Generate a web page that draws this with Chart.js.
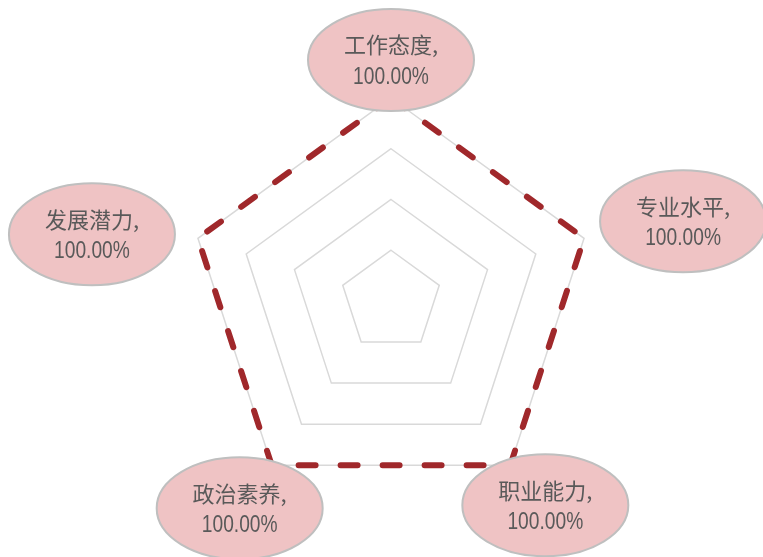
<!DOCTYPE html>
<html>
<head>
<meta charset="utf-8">
<script src="https://cdn.jsdelivr.net/npm/chart.js@4.4.0/dist/chart.umd.min.js"></script>
<style>
  html, body { margin: 0; padding: 0; background: #fff; }
  #wrap { width: 763px; height: 557px; }
</style>
</head>
<body>
<div id="wrap"><canvas id="radar" width="763" height="557"></canvas></div>
<script>
// data
const categories = ['工作态度', '专业水平', '职业能力', '政治素养', '发展潜力'];
const scores = [1, 1, 1, 1, 1];
const tickSteps = [0, 0.25, 0.5, 0.75, 1];

// where each callout bubble sits relative to its vertex (px)
const calloutShift = [[0, -38], [99, -17], [35, 40], [-32, 43], [-106, -4]];

const calloutPlugin = {
    id: 'callouts',
    afterDatasetsDraw(chart) {
        const ctx = chart.ctx;
        const meta = chart.getDatasetMeta(0);
        ctx.save();
        meta.data.forEach(function (pt, i) {
            const x = pt.x + calloutShift[i][0];
            const y = pt.y + calloutShift[i][1];
            ctx.beginPath();
            ctx.ellipse(x, y, 83, 51, 0, 0, Math.PI * 2);
            ctx.fillStyle = '#EFC3C4';
            ctx.fill();
            ctx.lineWidth = 2;
            ctx.strokeStyle = '#BFBFBF';
            ctx.stroke();

            ctx.fillStyle = '#595959';
            ctx.textAlign = 'center';
            ctx.textBaseline = 'middle';
            ctx.font = "22px 'Noto Sans CJK SC'";
            ctx.fillText(categories[i] + ',', x, y - 15);
            // narrow look for the percentage
            ctx.save();
            ctx.translate(x, y + 17);
            ctx.scale(0.8, 1);
            ctx.font = "24px 'Liberation Sans'";
            ctx.fillText((scores[i] * 100).toFixed(2) + '%', 0, 0);
            ctx.restore();
        });
        ctx.restore();
    }
};

new Chart(document.getElementById('radar'), {
    type: 'radar',
    data: {
        labels: categories,
        datasets: [{
            data: scores,
            fill: false,
            borderColor: '#A0282B',
            borderWidth: 6,
            borderDash: [17, 25],
            borderCapStyle: 'round',
            borderJoinStyle: 'round',
            pointRadius: 0,
            pointHoverRadius: 0,
            tension: 0
        }]
    },
    options: {
        responsive: false,
        animation: false,
        events: [],
        layout: { padding: { top: 98, bottom: 53, left: 188, right: 169 } },
        plugins: {
            legend: { display: false },
            tooltip: { enabled: false }
        },
        scales: {
            r: {
                min: tickSteps[0],
                max: tickSteps[tickSteps.length - 1],
                afterBuildTicks: function (axis) {
                    axis.ticks = tickSteps.map(function (v) { return { value: v }; });
                },
                ticks: { display: false },
                pointLabels: { display: false },
                angleLines: { display: false },
                grid: { color: '#D9D9D9', lineWidth: 1.5 }
            }
        }
    },
    plugins: [calloutPlugin]
});
</script>
</body>
</html>
